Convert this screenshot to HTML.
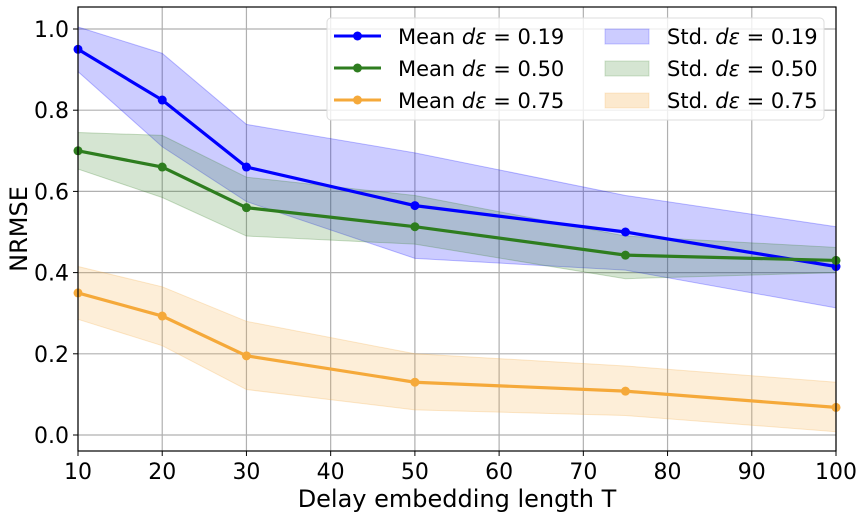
<!DOCTYPE html>
<html><head><meta charset="utf-8"><style>
body{margin:0;background:#fff;}
svg{font-family:"DejaVu Sans","Liberation Sans",sans-serif;}
</style></head><body>
<svg id="chart" width="864" height="516" viewBox="0 0 864 516">
<g id="grid"></g>
<g id="bands"></g>
<g id="lines"></g>
<g id="axes"></g>
<text x="457" y="507" font-size="24" text-anchor="middle">Delay embedding length T</text>
<text transform="translate(27,229) rotate(-90)" font-size="24" text-anchor="middle">NRMSE</text>
<g>
<rect x="327" y="18" width="497" height="102" rx="4" fill="#fff" fill-opacity="0.8" stroke="#ddd"/>
<g><line x1="334" y1="36" x2="381" y2="36" stroke="#0000ff" stroke-width="3"/><circle cx="357.5" cy="36" r="4.5" fill="#0000ff"/><text x="398" y="44" font-size="21" xml:space="preserve">Mean <tspan font-style="italic">dε</tspan> = 0.19</text></g>
<g><line x1="334" y1="68" x2="381" y2="68" stroke="#2e7d1f" stroke-width="3"/><circle cx="357.5" cy="68" r="4.5" fill="#2e7d1f"/><text x="398" y="76" font-size="21">Mean <tspan font-style="italic">dε</tspan> = 0.50</text></g>
<g><line x1="334" y1="100" x2="381" y2="100" stroke="#f5a93a" stroke-width="3"/><circle cx="357.5" cy="100" r="4.5" fill="#f5a93a"/><text x="398" y="108" font-size="21">Mean <tspan font-style="italic">dε</tspan> = 0.75</text></g>
<g><rect x="605" y="29" width="44" height="15" fill="#0000ff" fill-opacity="0.2" stroke="#0000ff" stroke-opacity="0.2"/><text x="667" y="44" font-size="21">Std. <tspan font-style="italic">dε</tspan> = 0.19</text></g>
<g><rect x="605" y="61" width="44" height="15" fill="#2e7d1f" fill-opacity="0.2" stroke="#2e7d1f" stroke-opacity="0.2"/><text x="667" y="76" font-size="21">Std. <tspan font-style="italic">dε</tspan> = 0.50</text></g>
<g><rect x="605" y="93" width="44" height="15" fill="#f5a93a" fill-opacity="0.25" stroke="#f5a93a" stroke-opacity="0.2"/><text x="667" y="108" font-size="21">Std. <tspan font-style="italic">dε</tspan> = 0.75</text></g>
</g>
</svg>
<script>
const tValues = [10, 20, 30, 50, 75, 100];
const mean019 = [0.95, 0.825, 0.66, 0.565, 0.50, 0.415];
const upper019 = [1.005, 0.94, 0.765, 0.695, 0.59, 0.513];
const lower019 = [0.895, 0.71, 0.575, 0.435, 0.406, 0.313];
const mean050 = [0.70, 0.66, 0.56, 0.513, 0.443, 0.43];
const upper050 = [0.745, 0.738, 0.635, 0.59, 0.49, 0.462];
const lower050 = [0.655, 0.585, 0.49, 0.47, 0.385, 0.40];
const mean075 = [0.35, 0.293, 0.195, 0.13, 0.108, 0.068];
const upper075 = [0.415, 0.365, 0.28, 0.2, 0.17, 0.13];
const lower075 = [0.285, 0.22, 0.112, 0.062, 0.048, 0.008];
const xTicks = [10, 20, 30, 40, 50, 60, 70, 80, 90, 100];
const yTicks = [0.0, 0.2, 0.4, 0.6, 0.8, 1.0];

const L=78,R=836,T=7,B=451;
const xs=v=>L+(v-10)/90*(R-L);
const ys=v=>435-v*406;
const NS='http://www.w3.org/2000/svg';
function mk(tag,parent,attrs){const e=document.createElementNS(NS,tag);for(const k in attrs)e.setAttribute(k,attrs[k]);parent.appendChild(e);return e;}
const grid=document.getElementById('grid'),axes=document.getElementById('axes'),bands=document.getElementById('bands'),lines=document.getElementById('lines');
xTicks.forEach(t=>{
  const g=mk('line',grid,{x1:xs(t),x2:xs(t),y1:T,y2:B,stroke:'#b0b0b0','stroke-width':1.2});
  
  
  const tk=mk('line',axes,{x1:xs(t),x2:xs(t),y1:B,y2:B+5,stroke:'#000','stroke-width':1});
  
  
  const lb=mk('text',axes,{x:xs(t),y:B+28,'font-size':22,'text-anchor':'middle'});
  lb.textContent=t;
  
  
});
yTicks.forEach(t=>{
  const g=mk('line',grid,{x1:L,x2:R,y1:ys(t),y2:ys(t),stroke:'#b0b0b0','stroke-width':1.2});
  
  
  const tk=mk('line',axes,{x1:L-5,x2:L,y1:ys(t),y2:ys(t),stroke:'#000','stroke-width':1});
  
  
  const lb=mk('text',axes,{x:L-9,y:ys(t)+8,'font-size':22,'text-anchor':'end'});
  lb.textContent=t.toFixed(1);
  
  
});
const fr=mk('rect',axes,{x:L,y:T,width:R-L,height:B-T,fill:'none',stroke:'#000','stroke-width':1.2});


const series=[
 {m:mean019,u:upper019,l:lower019,c:'#0000ff',n:'019'},
 {m:mean050,u:upper050,l:lower050,c:'#2e7d1f',n:'050'},
 {m:mean075,u:upper075,l:lower075,c:'#f5a93a',n:'075'}];
series.forEach(s=>{
  const pts=tValues.map((t,i)=>xs(t)+','+ys(s.u[i])).concat(tValues.map((t,i)=>xs(t)+','+ys(s.l[i])).reverse());
  const p=mk('polygon',bands,{points:pts.join(' '),fill:s.c,'fill-opacity':0.2,stroke:s.c,'stroke-opacity':0.25});
  
  
});
series.forEach(s=>{
  const pl=mk('polyline',lines,{points:tValues.map((t,i)=>xs(t)+','+ys(s.m[i])).join(' '),fill:'none',stroke:s.c,'stroke-width':3.2});
  
  
  tValues.forEach((t,i)=>{
    const c=mk('circle',lines,{cx:xs(t),cy:ys(s.m[i]),r:4.5,fill:s.c});
    
    
  });
});
</script>
</body></html>
